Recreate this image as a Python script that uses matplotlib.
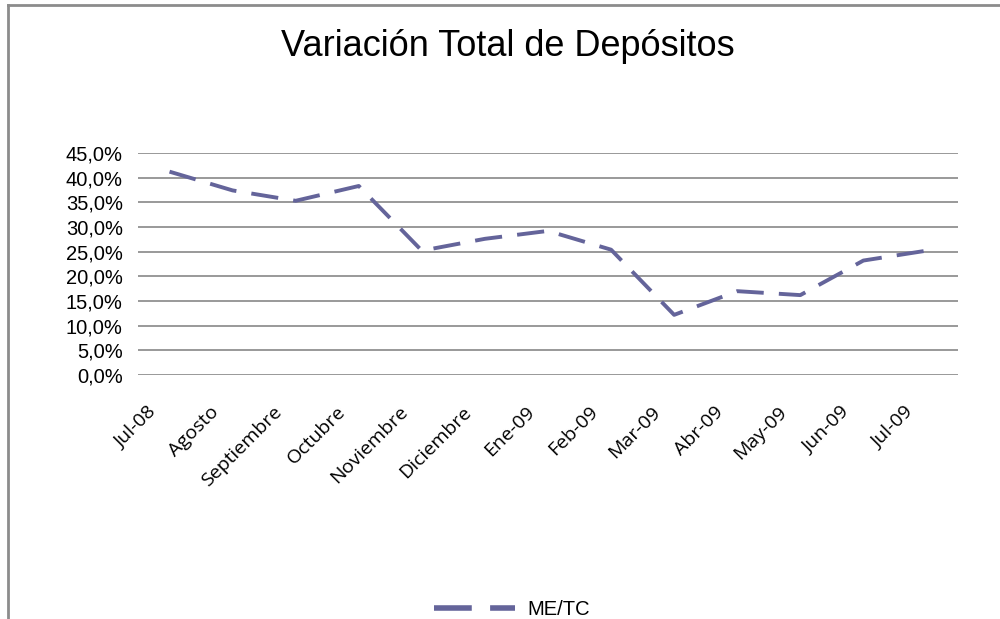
import matplotlib
matplotlib.use('Agg')
import matplotlib.pyplot as plt
import matplotlib.transforms as mtransforms
from matplotlib.lines import Line2D
from matplotlib.ticker import FuncFormatter

# data
months = ['Jul-08', 'Agosto', 'Septiembre', 'Octubre', 'Noviembre', 'Diciembre',
          'Ene-09', 'Feb-09', 'Mar-09', 'Abr-09', 'May-09', 'Jun-09', 'Jul-09']
me_tc = [41.2, 37.4, 35.3, 38.3, 25.2, 27.6, 29.2, 25.4, 12.2, 17.0, 16.2, 23.2, 25.2]
series_name = 'ME/TC'
title = 'Variación Total de Depósitos'

line_color = '#64649a'

fig = plt.figure(figsize=(10, 6.19), dpi=100)
ax = fig.add_axes([0.138, 0.394, 0.820, 0.359])

x = list(range(len(months)))
ax.plot(x, me_tc, color=line_color, lw=2.8, dashes=(7.0, 3.9), solid_capstyle='butt',
        dash_capstyle='butt')

ax.set_xlim(-0.5, len(months) - 0.5)
ax.set_ylim(0, 45)
ax.set_yticks(range(0, 50, 5))
ax.yaxis.set_major_formatter(FuncFormatter(lambda v, p: f'{v:.1f}%'.replace('.', ',')))
ax.grid(axis='y', color='#888888', lw=1.2)
ax.set_axisbelow(True)
for s in ax.spines.values():
    s.set_visible(False)
ax.tick_params(axis='both', length=0)
ax.tick_params(axis='y', pad=11, labelsize=14.5)
ax.set_xticks(x)
ax.set_xticklabels(months, rotation=45, ha='right', va='top')
ax.tick_params(axis='x', pad=20)
for lab in ax.get_yticklabels():
    lab.set_family(['Liberation Sans', 'DejaVu Sans'])
shift = mtransforms.ScaledTranslation(-10 / 100, 0, fig.dpi_scale_trans)
for lab in ax.get_xticklabels():
    lab.set_family(['Open Sans', 'DejaVu Sans'])
    lab.set_fontsize(14)
    lab.set_transform(lab.get_transform() + shift)

fig.text(0.508, 0.925, title, ha='center', va='center', fontsize=26,
         family=['Liberation Sans Narrow', 'Liberation Sans', 'DejaVu Sans'])

# chart frame: top and left border
fig.add_artist(Line2D([0.008, 1.0], [0.992, 0.992], color='#8c8c8c', lw=2, transform=fig.transFigure))
fig.add_artist(Line2D([0.008, 0.008], [0.0, 0.992], color='#8c8c8c', lw=2, transform=fig.transFigure))

handle = Line2D([0], [0], color=line_color, lw=4, dashes=(6.8, 3.3))
leg = fig.legend([handle], [series_name], loc='center', bbox_to_anchor=(0.512, 0.016),
                 frameon=False, handlelength=4.0, handletextpad=0.6,
                 prop={'family': ['Liberation Sans', 'DejaVu Sans'], 'size': 14.5})

fig.savefig('out.png', dpi=100)
